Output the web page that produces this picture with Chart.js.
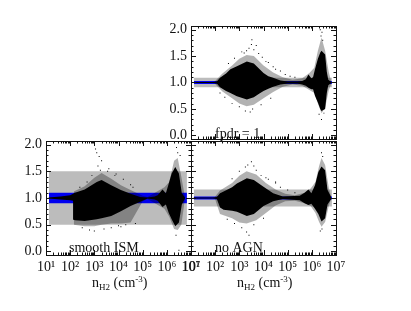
<!DOCTYPE html>
<html>
<head>
<meta charset="utf-8">
<script src="https://cdn.jsdelivr.net/npm/chart.js@4"></script>
<style>
  html, body { margin:0; padding:0; background:#fff; }
  canvas { position:absolute; left:0; top:0; }
</style>
</head>
<body>
<canvas id="top" width="411" height="311"></canvas>
<canvas id="left" width="411" height="311"></canvas>
<canvas id="right" width="411" height="311"></canvas>
<script>
"use strict";
// log10(density) values
var xTicks = [1, 2, 3, 4, 5, 6, 7];
var xTickLabels = ['10¹', '10²', '10³', '10⁴', '10⁵', '10⁶', '10⁷'];
var yTicks = [0, 0.5, 1, 1.5, 2];
var yMinor = [0.1, 0.2, 0.3, 0.4, 0.6, 0.7, 0.8, 0.9, 1.1, 1.2, 1.3, 1.4, 1.6, 1.7, 1.8, 1.9];

var bandX = [1.12, 6.83];

// fpdr = 1
var topGrayLow = [0.91, 0.91], topGrayHigh = [1.09, 1.09];
var topBlueLow = [0.97, 0.97], topBlueHigh = [1.03, 1.03];
var topCoreX = [1.1, 1.9, 2.07, 2.2, 2.45, 2.63, 2.9, 3.31, 3.6, 3.8, 4.0, 4.2, 4.4, 4.7, 5.0, 5.4, 5.6, 5.75, 5.86, 5.98, 6.05, 6.13, 6.25, 6.35, 6.4, 6.55, 6.62, 6.68, 6.8];
var topCoreHigh = [1.01, 1.01, 1.02, 1.09, 1.17, 1.25, 1.31, 1.4, 1.36, 1.27, 1.18, 1.12, 1.09, 1.04, 1.02, 1.02, 1.03, 1.06, 1.15, 1.08, 1.1, 1.25, 1.45, 1.57, 1.6, 1.53, 1.2, 1.05, 1.01];
var topCoreLow = [0.99, 0.99, 0.98, 0.91, 0.84, 0.8, 0.74, 0.68, 0.72, 0.78, 0.84, 0.88, 0.92, 0.96, 0.98, 0.98, 0.96, 0.94, 0.9, 0.87, 0.87, 0.75, 0.62, 0.5, 0.46, 0.5, 0.8, 0.95, 0.99];
var topHaloX = [2.0, 2.3, 2.7, 3.0, 3.3, 3.6, 4.0, 4.4, 4.8, 5.2, 5.6, 5.9, 6.1, 6.25, 6.4, 6.55, 6.7, 6.8];
var topHaloHigh = [1.03, 1.17, 1.32, 1.45, 1.52, 1.5, 1.32, 1.19, 1.1, 1.05, 1.08, 1.18, 1.28, 1.6, 1.85, 1.6, 1.2, 1.03];
var topHaloLow = [0.97, 0.83, 0.7, 0.6, 0.55, 0.58, 0.7, 0.82, 0.92, 0.96, 0.94, 0.86, 0.8, 0.6, 0.42, 0.52, 0.85, 0.97];
var topDotsX = [3.52, 3.4, 3.7, 3.1, 3.6, 3.95, 4.2, 4.4, 4.7, 2.8, 2.55, 3.2, 3.3, 3.5, 3.8, 4.1, 4.5, 4.9, 5.1, 2.4, 2.7, 3.0, 3.25, 3.55, 3.9, 4.3, 6.35, 6.42, 6.38, 6.45, 6.4, 6.3, 6.5, 3.45, 2.2, 5.3];
var topDotsY = [1.81, 1.65, 1.7, 1.58, 1.62, 1.48, 1.38, 1.3, 1.22, 1.46, 1.36, 1.56, 1.6, 1.72, 1.55, 1.4, 1.25, 1.15, 1.12, 0.72, 0.6, 0.54, 0.46, 0.5, 0.58, 0.7, 2.0, 1.95, 1.88, 1.8, 0.3, 0.4, 0.42, 0.44, 0.8, 1.1];

// smooth ISM
var leftGrayLow = [0.5, 0.5], leftGrayHigh = [1.5, 1.5];
var leftBlueLow = [0.9, 0.9], leftBlueHigh = [1.1, 1.1];
var leftCoreX = [1.1, 1.6, 2.0, 2.12, 2.14, 2.2, 2.6, 3.1, 3.3, 3.7, 4.1, 4.5, 4.9, 5.2, 5.5, 5.62, 5.82, 5.96, 6.08, 6.2, 6.35, 6.5, 6.62, 6.75];
var leftCoreHigh = [1.01, 1.03, 1.05, 1.08, 1.09, 1.1, 1.16, 1.3, 1.34, 1.24, 1.15, 1.08, 1.02, 1.01, 1.03, 1.05, 1.16, 1.09, 1.27, 1.46, 1.58, 1.46, 1.09, 1.01];
var leftCoreLow = [0.99, 0.97, 0.96, 0.95, 0.59, 0.58, 0.57, 0.6, 0.62, 0.66, 0.75, 0.85, 0.93, 0.99, 0.97, 0.95, 0.83, 0.88, 0.72, 0.6, 0.47, 0.54, 0.88, 0.99];
var leftHaloX = [2.15, 2.6, 3.0, 3.3, 3.7, 4.1, 4.5, 5.0, 5.2, 5.9, 6.1, 6.3, 6.45, 6.6, 6.75];
var leftHaloHigh = [1.12, 1.22, 1.38, 1.47, 1.36, 1.24, 1.15, 1.04, 1.02, 1.2, 1.3, 1.7, 1.75, 1.4, 1.02];
var leftHaloLow = [0.5, 0.47, 0.47, 0.5, 0.52, 0.52, 0.54, 0.94, 0.98, 0.8, 0.65, 0.42, 0.4, 0.5, 0.98];
var leftDotsX = [3.05, 3.1, 3.2, 3.3, 3.6, 3.9, 4.2, 4.5, 2.5, 2.8, 3.0, 3.4, 3.7, 4.0, 4.3, 4.7, 2.9, 3.15, 6.4, 6.45, 6.38, 6.5, 6.55, 2.4, 2.7, 3.25, 3.55, 3.85, 4.6, 4.1];
var leftDotsY = [1.92, 1.85, 1.78, 1.7, 1.55, 1.45, 1.35, 1.25, 0.44, 0.4, 0.38, 0.42, 0.44, 0.48, 0.5, 0.52, 1.42, 1.6, 1.95, 1.85, 0.3, 0.02, 1.8, 1.2, 1.3, 1.52, 1.5, 1.42, 1.2, 0.46];

// no AGN
var rightGrayLow = [0.84, 0.84], rightGrayHigh = [1.16, 1.16];
var rightBlueLow = [0.97, 0.97], rightBlueHigh = [1.03, 1.03];
var rightCoreX = [1.1, 1.9, 2.07, 2.2, 2.35, 2.7, 2.9, 3.31, 3.6, 4.0, 4.4, 4.8, 5.5, 5.7, 5.86, 5.98, 6.13, 6.27, 6.4, 6.55, 6.65, 6.8];
var rightCoreHigh = [1.01, 1.01, 1.02, 1.09, 1.12, 1.2, 1.27, 1.37, 1.34, 1.21, 1.09, 1.03, 1.04, 1.1, 1.16, 1.09, 1.24, 1.49, 1.59, 1.52, 1.15, 1.02];
var rightCoreLow = [0.99, 0.99, 0.98, 0.82, 0.78, 0.76, 0.74, 0.66, 0.7, 0.85, 0.94, 0.98, 0.96, 0.9, 0.87, 0.89, 0.8, 0.7, 0.56, 0.62, 0.88, 0.98];
var rightHaloX = [2.0, 2.2, 2.7, 3.0, 3.3, 3.7, 4.1, 4.5, 4.9, 5.3, 5.7, 5.95, 6.15, 6.3, 6.4, 6.55, 6.7, 6.8];
var rightHaloHigh = [1.03, 1.14, 1.28, 1.42, 1.5, 1.44, 1.28, 1.16, 1.08, 1.05, 1.1, 1.18, 1.3, 1.6, 1.75, 1.62, 1.2, 1.02];
var rightHaloLow = [0.97, 0.7, 0.62, 0.54, 0.52, 0.58, 0.72, 0.86, 0.94, 0.95, 0.9, 0.85, 0.72, 0.55, 0.46, 0.55, 0.85, 0.98];
var rightDotsX = [3.5, 3.6, 3.25, 3.9, 4.2, 4.5, 4.7, 3.0, 2.7, 3.35, 3.7, 4.1, 4.5, 5.0, 2.5, 2.8, 3.1, 3.3, 3.6, 4.0, 6.4, 6.45, 6.35, 6.42, 3.4, 5.3];
var rightDotsY = [1.68, 1.6, 1.58, 1.42, 1.35, 1.3, 1.2, 1.5, 1.36, 1.62, 1.52, 1.38, 1.28, 1.15, 0.6, 0.52, 0.44, 0.36, 0.5, 0.62, 1.85, 1.78, 0.38, 0.42, 0.3, 1.1];

var grayBand = '#bcbcbc', blueBand = '#0000f0';

function pts(xs, ys) {
  return xs.map(function (n, i) { return { x: Math.pow(10, n), y: ys[i] }; });
}

function bandSets(xs, high, low, color, order) {
  return [
    { data: pts(xs, high), showLine: true, borderWidth: 0, pointRadius: 0, backgroundColor: color, fill: '+1', order: order, tension: 0 },
    { data: pts(xs, low), showLine: true, borderWidth: 0, pointRadius: 0, backgroundColor: color, fill: false, order: order, tension: 0 }
  ];
}

// frame, inward ticks on all four sides and the panel note
var framePlugin = {
  id: 'frame',
  afterDraw: function (chart, args, opts) {
    var c = chart.ctx, a = chart.chartArea, sx = chart.scales.x, sy = chart.scales.y;
    c.save();
    c.strokeStyle = '#111';
    c.lineWidth = 1;
    c.strokeRect(a.left + 0.5, a.top + 0.5, a.right - a.left, a.bottom - a.top);
    c.beginPath();
    function xTick(v, len) {
      var p = Math.round(sx.getPixelForValue(v)) + 0.5;
      c.moveTo(p, a.bottom); c.lineTo(p, a.bottom - len);
      c.moveTo(p, a.top); c.lineTo(p, a.top + len);
    }
    function yTick(v, len) {
      var p = Math.round(sy.getPixelForValue(v)) + 0.5;
      c.moveTo(a.left, p); c.lineTo(a.left + len, p);
      c.moveTo(a.right, p); c.lineTo(a.right - len, p);
    }
    xTicks.forEach(function (n) {
      xTick(Math.pow(10, n), 5);
      if (n < 7) {
        for (var m = 2; m < 10; m++) xTick(m * Math.pow(10, n), 2.5);
      }
    });
    yTicks.forEach(function (v) { yTick(v, 5); });
    yMinor.forEach(function (v) { yTick(v, 2.5); });
    c.stroke();
    c.fillStyle = '#111';
    c.font = '14px "Liberation Serif"';
    c.textBaseline = 'alphabetic';
    c.fillText(opts.note, opts.noteX, opts.noteY);
    if (opts.axisX) {
      var x = opts.axisX, y = 287;
      var parts = [['n', 14, 0], ['H2', 9, 3], [' (cm', 14, 0], ['-3', 9, -5], [')', 14, 0]];
      parts.forEach(function (p) {
        c.font = p[1] + 'px "Liberation Serif"';
        c.fillText(p[0], x, y + p[2]);
        x += c.measureText(p[0]).width;
      });
    }
    c.restore();
  }
};

function panel(id, area, showX, showY, note, noteX, noteY, axisX, g, b, bands) {
  var sets = []
    .concat(bandSets(bandX, g.high, g.low, grayBand, 6))
    .concat(bandSets(bandX, b.high, b.low, blueBand, 5))
    .concat(bandSets(bands.haloX, bands.haloHigh, bands.haloLow, 'rgba(0,0,0,0.3)', 4))
    .concat(bandSets(bands.coreX, bands.coreHigh, bands.coreLow, '#000', 3));
  sets.push({ data: pts(bands.dotsX, bands.dotsY), pointRadius: 0.7, pointStyle: 'rect', borderWidth: 0, backgroundColor: '#000', order: 2 });

  new Chart(document.getElementById(id).getContext('2d'), {
    type: 'scatter',
    data: { datasets: sets },
    plugins: [framePlugin],
    options: {
      responsive: false,
      animation: false,
      events: [],
      layout: { padding: { left: area.left - 40, top: area.top, right: 411 - area.right, bottom: 311 - area.bottom - 30 } },
      plugins: {
        legend: { display: false },
        tooltip: { enabled: false },
        frame: { note: note, noteX: noteX, noteY: noteY, axisX: axisX }
      },
      scales: {
        x: {
          type: 'logarithmic', min: 10, max: 1e7,
          grid: { display: false, drawTicks: false },
          border: { display: false },
          afterBuildTicks: function (s) { s.ticks = xTicks.map(function (n) { return { value: Math.pow(10, n) }; }); },
          afterFit: function (s) { s.height = 30; },
          ticks: {
            display: showX, autoSkip: false, maxRotation: 0, padding: 4, color: '#111',
            font: { family: '"Liberation Serif"', size: 14 },
            callback: function (v) { return xTickLabels[xTicks.indexOf(Math.round(Math.log10(v)))]; }
          }
        },
        y: {
          min: -0.07, max: 2.07,
          grid: { display: false, drawTicks: false },
          border: { display: false },
          afterBuildTicks: function (s) { s.ticks = yTicks.map(function (v) { return { value: v }; }); },
          afterFit: function (s) { s.width = 40; },
          ticks: {
            display: showY, padding: 4, color: '#111',
            font: { family: '"Liberation Serif"', size: 14 },
            callback: function (v) { return v.toFixed(1); }
          }
        }
      }
    }
  });
}

panel('top', { left: 191, top: 26, right: 336, bottom: 139 }, false, true, 'fpdr = 1', 215, 138, null,
  { high: topGrayHigh, low: topGrayLow }, { high: topBlueHigh, low: topBlueLow },
  { coreX: topCoreX, coreHigh: topCoreHigh, coreLow: topCoreLow, haloX: topHaloX, haloHigh: topHaloHigh, haloLow: topHaloLow, dotsX: topDotsX, dotsY: topDotsY });
panel('left', { left: 46, top: 141, right: 191, bottom: 255 }, true, true, 'smooth ISM', 69, 252, 92,
  { high: leftGrayHigh, low: leftGrayLow }, { high: leftBlueHigh, low: leftBlueLow },
  { coreX: leftCoreX, coreHigh: leftCoreHigh, coreLow: leftCoreLow, haloX: leftHaloX, haloHigh: leftHaloHigh, haloLow: leftHaloLow, dotsX: leftDotsX, dotsY: leftDotsY });
panel('right', { left: 191, top: 141, right: 336, bottom: 255 }, true, false, 'no AGN', 215, 252, 237,
  { high: rightGrayHigh, low: rightGrayLow }, { high: rightBlueHigh, low: rightBlueLow },
  { coreX: rightCoreX, coreHigh: rightCoreHigh, coreLow: rightCoreLow, haloX: rightHaloX, haloHigh: rightHaloHigh, haloLow: rightHaloLow, dotsX: rightDotsX, dotsY: rightDotsY });
</script>
</body>
</html>
